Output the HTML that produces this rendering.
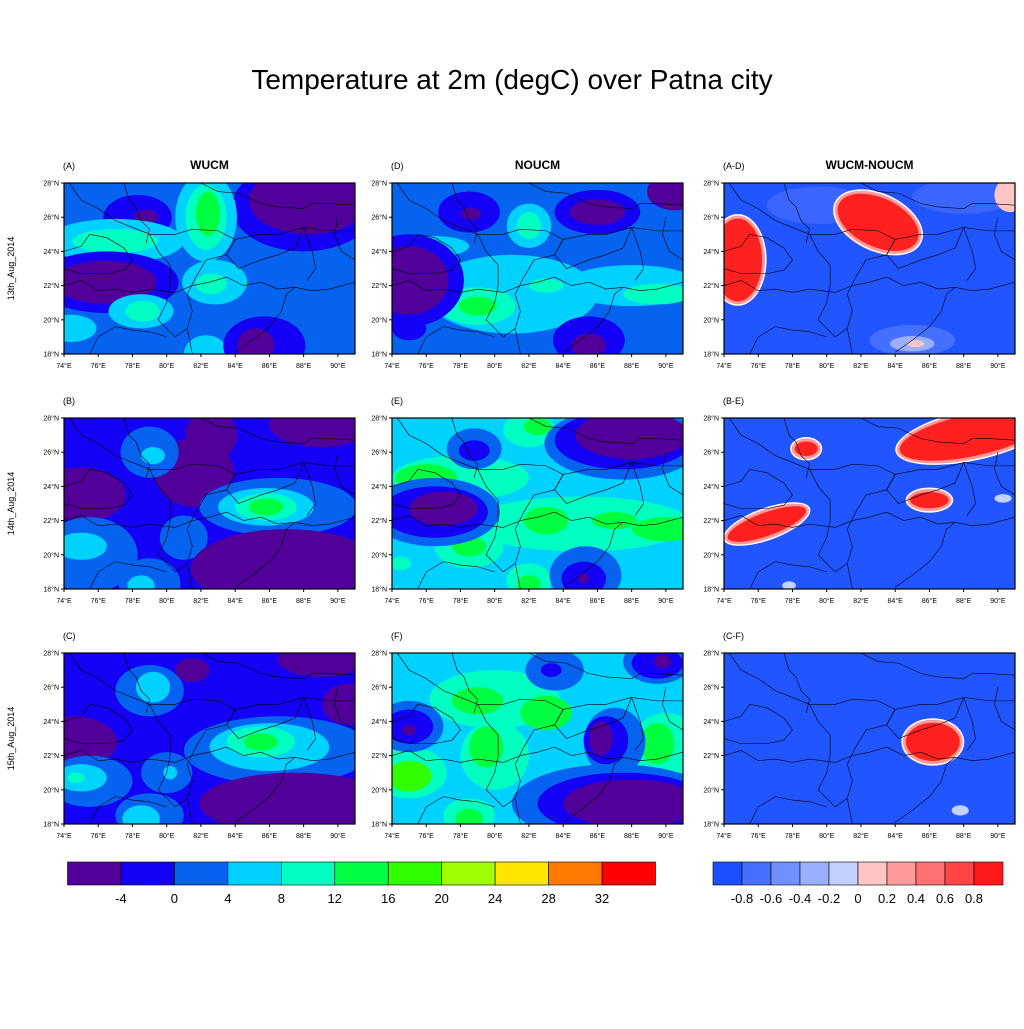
<!DOCTYPE html>
<html><head><meta charset="utf-8"><style>
html,body{margin:0;padding:0;background:#fff}
svg text{font-family:"Liberation Sans",sans-serif}
</style></head><body>
<svg id="s" width="1024" height="1024" xmlns="http://www.w3.org/2000/svg">
<rect width="1024" height="1024" fill="#fff"/>
<text x="512" y="89" font-size="28" text-anchor="middle">Temperature at 2m (degC) over Patna city</text>
</svg>
<script>
const S=document.getElementById('s');let h='';
const C=['#52009a','#1400f5','#0563f0','#00d2ff','#00ffc0','#00ff40','#30ff00','#a0ff00'];
const cols=[64,392,724],rows=[183,418,653],W=291,H=171;
const P={
'0,0':[[88,26.6,4.2,2.6,1],[88.3,27,3.5,2,0],[78.3,26,2,1.3,1],[78.8,26,.7,.45,0],[77,24.6,4,1.3,3],[77,24.6,2.5,.7,4],[82.3,26,1.8,2.6,3],[82.3,26,1.2,1.9,4],[82.4,26.2,.7,1.3,5],[76.5,22.2,4.2,1.8,1],[76.4,22.2,3,1.25,0],[82.8,22.2,1.9,1.3,3],[82.6,22.1,.9,.6,4],[78.5,20.5,1.9,1,3],[78.6,20.5,1,.6,4],[74.4,19.5,1.5,.8,3],[82.3,18,1.3,1.1,3],[85.7,18.5,2.4,1.7,1],[85.2,18.5,1.1,1,0]],
'0,1':[[81,21.5,5,2.3,3],[88,22,4,1.2,3],[82,25.5,1.3,1.3,3],[76.5,24.3,2,.6,3],[82,25.5,.7,.8,4],[79,20.8,2.2,1.1,4],[79,20.8,1.1,.55,5],[83,22,1,.4,4],[89.5,21.5,2,.6,4],[75,22.3,3.2,2.7,1],[75,22.3,2.3,2,0],[78.5,26.3,1.8,1.2,1],[78.6,26.2,.6,.35,0],[86,26.3,2.5,1.3,1],[86,26.3,1.6,.75,0],[90.5,27.5,1.6,1.1,0],[75,19.5,1,.7,1],[85.5,18.8,2.1,1.4,1],[85.5,18.5,1,.7,0]],
'1,0':[[75,23.5,2.6,1.6,0],[81.6,24.8,2.3,2,0],[82.6,27,1.5,1.5,0],[89,27.6,3,1.3,0],[79,26,1.7,1.5,2],[79.2,25.8,.7,.5,3],[86.5,22.8,4.6,1.7,2],[85.8,22.8,2.8,1.1,3],[85.8,22.8,1.8,.8,4],[85.8,22.8,1,.5,5],[75.5,20,2.8,2.2,2],[75,20.5,1.5,.8,3],[81,21,1.4,1.3,2],[79,18.3,1.8,1.5,2],[78.5,18.2,.8,.6,3],[87,19.2,5.6,2.3,0]],
'1,1':[[78,24.5,4,1.3,4],[76,24.5,1.8,.8,5],[82,27.3,1.5,1,4],[82.5,27.5,.8,.5,5],[85,21.8,6.5,1.6,4],[83,22,1.3,.8,5],[90,21.5,2,.7,5],[87,22,1.3,.5,5],[78.5,20.5,2,1.3,4],[78.5,20.5,1,.6,5],[82,18.5,1.3,1,4],[82,18.3,.7,.5,5],[74.5,19.5,.6,.4,4],[76.5,22.5,3.8,2,2],[76.5,22.5,3.1,1.5,1],[77,22.7,2,1,0],[78.8,26.2,1.6,1.2,2],[78.8,26.1,.9,.6,1],[87.5,26.5,4.6,2.1,2],[87.5,26.7,4,1.7,1],[88,27,3.3,1.4,0],[85.3,18.8,2.1,1.7,2],[85.2,18.6,1.3,1,1],[85.2,18.6,.3,.3,0]],
'2,0':[[74.5,22.8,2.6,1.5,0],[79,25.8,2,1.5,2],[79.2,26,1,.9,3],[81.5,27,1,.7,0],[89,27.6,2.5,1,0],[90.6,25,1.5,1.2,0],[86.5,22.3,5.5,2,2],[86,22.5,3.5,1.4,3],[85.5,22.8,2,.9,4],[85.5,22.8,1,.5,5],[75.5,20.5,2.5,1.5,2],[75,20.7,1.5,.8,3],[74.7,20.7,.5,.3,4],[80,21,1.5,1.2,2],[80.2,21,.4,.4,3],[79,18.5,2,1.3,2],[78.5,18.3,1.1,.8,3],[87.5,19.2,5.6,1.8,0]],
'2,1':[[80,25.3,3.8,1.7,4],[79,25.2,1.5,.8,5],[83,24.5,1.5,1,5],[80,22,2,2,4],[79.5,22.5,1,1.2,5],[75,21,2.2,1.5,4],[75,20.8,1.3,.9,6],[78.5,18.5,1.5,1,4],[78.5,18.3,.8,.6,5],[90,22.5,2,2,4],[89.5,22.7,1,1.2,5],[75,23.7,2,1.5,2],[75,23.7,1.4,1,1],[75,23.5,.4,.3,0],[83.5,27,1.7,1.2,2],[83.3,27,.6,.4,1],[89.5,27.5,2,1.3,2],[89.5,27.4,1.5,.9,1],[89.8,27.5,.5,.4,0],[87,22.8,1.8,2,2],[86.5,22.9,1.3,1.4,1],[86.2,23,.7,1,0],[87,19.2,6,2.3,2],[87.5,19.2,5,1.8,1],[88,19.2,4,1.4,0]]};
const D={0:{light:[[79.5,26.7,3,1.1,'#3a66ff'],[88,27.2,3,1,'#3a66ff'],[85,18.8,2.5,.9,'#4570ff'],[85,18.6,1.3,.45,'#9ab0ff'],[85.2,18.6,.5,.2,'#ffc4c4'],[90.7,27.3,.9,1,'#ffc4c4']],red:[[74.8,23.5,1.6,2.6,0],[83,25.7,2.7,1.6,25]]},
1:{light:[[90.3,23.3,.5,.25,'#c4d0ff'],[77.8,18.2,.4,.25,'#c4d0ff']],red:[[88.5,27,4.5,1.4,-12],[78.8,26.2,.85,.6,0],[76.5,21.8,2.6,.85,-20],[86,23.2,1.3,.65,0]]},
2:{light:[[87.8,18.8,.5,.3,'#c4d0ff']],red:[[86.2,22.8,1.75,1.3,0]]}};
const map=[
[[74.3,28],[75,27],[76,26.5],[77,25.8],[78,25.4],[79,25],[80.5,25],[81.5,25.3],[83,25.2],[84,24.7],[85.5,25],[86.5,25],[88,25.4],[89.5,25.2],[91,25.2]],
[[77.5,28],[77.8,27],[78.2,26.6],[78.5,25.8],[79,25.3],[78.8,24.5]],
[[82,28],[83,27.5],[84.2,27.4],[85.5,26.8],[86.5,26.6],[88,26.5],[88.5,26.8],[89.5,26.8],[91,26.7]],
[[74,22],[75,22.3],[76,21.7],[77,21.8],[78,21.6],[79,21.8],[80.5,21.6],[81.5,22]],
[[81.5,18],[81.2,19.5],[81.5,20.5],[81.2,21.5],[81.7,22.5],[82.3,23.5],[83.5,23.8],[84,24.7]],
[[81.5,22],[82.5,22.2],[83.5,22.5],[84.5,22],[85.5,22.2],[86.5,21.8],[87.5,21.9]],
[[84,18.1],[85,18.8],[86,19.6],[86.7,20.5],[87,21.5],[87.5,21.9],[88.5,21.7],[89.5,21.8],[91,22.2]],
[[84,24.7],[83.5,23.8],[84.2,23],[85.5,23.5],[86.5,23.8],[87.5,24.2],[88,25.4]],
[[79,25],[79.5,24],[80.2,23.2],[80.2,22],[80,21],[79.5,20],[80.5,19],[81.2,19.5]],
[[75.5,18],[76,19],[77,19.6],[78,19.4],[79,19.3],[80,19]],
[[74,24],[75,24.3],[75.5,25],[76.5,24.8],[77.5,24.2],[78,23.5],[77.5,22.9],[76.5,22.7],[75,22.7],[74,23]],
[[88,25.4],[88.5,24],[88.7,23],[88.2,22.3]],
[[90,26],[89.8,25],[90.2,24],[91,23.5]]];
function proj(c,r,lon,lat){return [cols[c]+(lon-74)/17*W,rows[r]+(28-lat)/10*H];}
h+='<defs>';for(let r=0;r<3;r++)for(let c=0;c<3;c++)h+=`<clipPath id="k${r}${c}"><rect x="${cols[c]}" y="${rows[r]}" width="${W}" height="${H}"/></clipPath>`;h+='</defs>';
for(let r=0;r<3;r++)for(let c=0;c<3;c++){
 const x0=cols[c],y0=rows[r];
 h+=`<g clip-path="url(#k${r}${c})">`;
 if(c<2){h+=`<rect x="${x0}" y="${y0}" width="${W}" height="${H}" fill="${C[r==0||c==0?(r==0?2:1):3]}"/>`;
  for(const b of P[r+','+c]){const [x,y]=proj(c,r,b[0],b[1]);h+=`<ellipse cx="${x}" cy="${y}" rx="${b[2]/17*W}" ry="${b[3]/10*H}" fill="${C[b[4]]}"/>`;}
 }else{h+=`<rect x="${x0}" y="${y0}" width="${W}" height="${H}" fill="#2055ff"/>`;
  for(const b of D[r].light){const [x,y]=proj(c,r,b[0],b[1]);h+=`<ellipse cx="${x}" cy="${y}" rx="${b[2]/17*W}" ry="${b[3]/10*H}" fill="${b[4]}"/>`;}
  for(const b of D[r].red){const [x,y]=proj(c,r,b[0],b[1]);const rx=b[2]/17*W,ry=b[3]/10*H;
   h+=`<g transform="rotate(${b[4]} ${x} ${y})"><ellipse cx="${x}" cy="${y}" rx="${rx+1.5}" ry="${ry+1.5}" fill="#fff"/><ellipse cx="${x}" cy="${y}" rx="${rx}" ry="${ry}" fill="#ff9a9a"/><ellipse cx="${x}" cy="${y}" rx="${rx-3}" ry="${ry-3}" fill="#ff2020"/></g>`;}
 }
 for(const l of map){h+=`<polyline fill="none" stroke="#000" stroke-width="0.6" points="${l.map(p=>proj(c,r,p[0],p[1]).join(',')).join(' ')}"/>`;}
 h+='</g>';
 h+=`<rect x="${x0}" y="${y0}" width="${W}" height="${H}" fill="none" stroke="#000" stroke-width="1.2"/>`;
 for(let i=0;i<6;i++){const lat=28-2*i,y=y0+i*H/5;h+=`<line x1="${x0-3}" x2="${x0}" y1="${y}" y2="${y}" stroke="#000"/><text x="${x0-5}" y="${y+2.5}" font-size="7" text-anchor="end">${lat}°N</text>`;}
 for(let i=0;i<9;i++){const lon=74+2*i,x=x0+(lon-74)/17*W;h+=`<line x1="${x}" x2="${x}" y1="${y0+H}" y2="${y0+H+3}" stroke="#000"/><text x="${x}" y="${y0+H+14}" font-size="7" text-anchor="middle">${lon}°E</text>`;}
 const lab=[['A','D','A-D'],['B','E','B-E'],['C','F','C-F']][r][c];
 h+=`<text x="${x0-1}" y="${y0-14}" font-size="9">(${lab})</text>`;
 if(r==0)h+=`<text x="${x0+W/2}" y="${y0-14}" font-size="12" font-weight="bold" text-anchor="middle">${['WUCM','NOUCM','WUCM-NOUCM'][c]}</text>`;
}
['13th_Aug_2014','14th_Aug_2014','15th_Aug_2014'].forEach((t,i)=>{const y=rows[i]+H/2;h+=`<text transform="translate(14 ${y}) rotate(-90)" font-size="9" text-anchor="middle">${t}</text>`;});
const lc=['#52009a','#1400f5','#0563f0','#00d2ff','#00ffc0','#00ff40','#30ff00','#a0ff00','#ffe600','#ff7800','#ff0000'];
const bw=(655.5-67.5)/11;
lc.forEach((c,i)=>{h+=`<rect x="${67.5+i*bw}" y="862" width="${bw}" height="23" fill="${c}" stroke="#000" stroke-width="0.6"/>`;});
['-4','0','4','8','12','16','20','24','28','32'].forEach((t,i)=>{h+=`<text x="${67.5+(i+1)*bw}" y="903" font-size="13" text-anchor="middle">${t}</text>`;});
const rc=['#1a50ff','#4570ff','#7090ff','#9ab0ff','#c4d0ff','#ffc4c4','#ff9a9a','#ff7070','#ff4545','#ff1a1a'];
const rw=(1003-713)/10;
rc.forEach((c,i)=>{h+=`<rect x="${713+i*rw}" y="862" width="${rw}" height="23" fill="${c}" stroke="#000" stroke-width="0.6"/>`;});
['-0.8','-0.6','-0.4','-0.2','0','0.2','0.4','0.6','0.8'].forEach((t,i)=>{h+=`<text x="${713+(i+1)*rw}" y="903" font-size="13" text-anchor="middle">${t}</text>`;});
S.insertAdjacentHTML('beforeend',h);
</script>
</body></html>
